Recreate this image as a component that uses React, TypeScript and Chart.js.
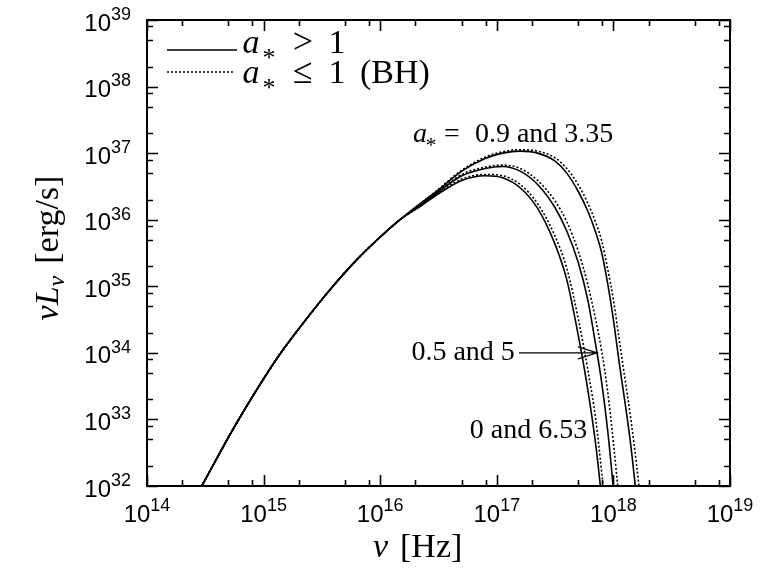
import React, { useEffect, useRef } from "react";
import { Chart, registerables } from "chart.js";

Chart.register(...registerables);

// log10 of frequency (Hz) – shared grid
const logNu = [
  14.3, 14.47, 14.6, 14.74, 14.9, 15.12, 15.35, 15.58, 15.8, 16.0, 16.17, 16.35,
  16.5, 16.7, 16.9, 17.05, 17.2, 17.35, 17.5, 17.6, 17.7, 17.78, 17.85, 17.9,
  17.95, 18.0, 18.05, 18.1, 18.15, 18.2, 18.25, 18.3,
];

// log10(nu L_nu) – common rising part (first 11 grid points)
const riseLogL = [31.46, 32.0, 32.42, 32.86, 33.33, 33.93, 34.47, 34.97, 35.4, 35.74, 36.0];

// tails from log nu = 16.35 onwards
const tailA335 = [36.25, 36.45, 36.73, 36.92, 37.0, 37.03, 37.0, 36.88, 36.7, 36.42, 36.13, 35.8, 35.5, 35.05, 34.5, 33.85, 33.25, 32.6, 31.8, 31.0, 30.1];
const tailA09 = [36.25, 36.46, 36.745, 36.94, 37.02, 37.05, 37.03, 36.93, 36.77, 36.52, 36.25, 35.95, 35.68, 35.27, 34.8, 34.2, 33.6, 33.0, 32.3, 31.5, 30.6];
const tailA5 = [36.23, 36.42, 36.66, 36.77, 36.8, 36.73, 36.53, 36.18, 35.83, 35.35, 34.8, 34.1, 33.55, 32.85, 31.95, 30.9, null, null, null, null, null];
const tailA05 = [36.23, 36.43, 36.68, 36.79, 36.82, 36.77, 36.59, 36.28, 35.97, 35.52, 35.03, 34.48, 34.02, 33.43, 32.65, 31.75, 30.7, null, null, null, null];
const tailA653 = [36.21, 36.39, 36.59, 36.66, 36.63, 36.48, 36.17, 35.63, 35.1, 34.25, 33.45, 32.6, 31.8, 30.9, null, null, null, null, null, null, null];
const tailA0 = [36.21, 36.4, 36.61, 36.68, 36.66, 36.53, 36.24, 35.75, 35.27, 34.5, 33.75, 32.98, 32.2, 31.35, 30.4, null, null, null, null, null, null];

const xExps = [14, 15, 16, 17, 18, 19];
const yExps = [32, 33, 34, 35, 36, 37, 38, 39];
const minorMults = [2, 5, 8];

const seriesList: { name: string; tail: (number | null)[]; dotted: boolean }[] = [
  { name: "a*=3.35", tail: tailA335, dotted: false },
  { name: "a*=5", tail: tailA5, dotted: false },
  { name: "a*=6.53", tail: tailA653, dotted: false },
  { name: "a*=0.9 (BH)", tail: tailA09, dotted: true },
  { name: "a*=0.5 (BH)", tail: tailA05, dotted: true },
  { name: "a*=0 (BH)", tail: tailA0, dotted: true },
];

const SERIF = '"Liberation Serif", "Times New Roman", serif';
const SANS = '"Liberation Sans", Arial, Helvetica, sans-serif';

function drawPow(ctx: CanvasRenderingContext2D, exp: number, x: number, baseY: number, align: "center" | "right") {
  ctx.font = `24px ${SANS}`;
  const wb = ctx.measureText("10").width;
  ctx.font = `18px ${SANS}`;
  const ws = ctx.measureText(String(exp)).width;
  const total = wb + ws;
  const left = align === "center" ? x - total / 2 : x - total;
  ctx.textAlign = "left";
  ctx.textBaseline = "alphabetic";
  ctx.font = `24px ${SANS}`;
  ctx.fillText("10", left, baseY);
  ctx.font = `18px ${SANS}`;
  ctx.fillText(String(exp), left + wb, baseY - 10.6);
}

function textAt(ctx: CanvasRenderingContext2D, s: string, x: number, y: number, font: string, align: CanvasTextAlign = "left") {
  ctx.font = font;
  ctx.textAlign = align;
  ctx.textBaseline = "alphabetic";
  ctx.fillText(s, x, y);
}

function starAt(ctx: CanvasRenderingContext2D, cx: number, cy: number, size: number) {
  ctx.font = `${size}px ${SERIF}`;
  ctx.textAlign = "center";
  ctx.textBaseline = "alphabetic";
  const m = ctx.measureText("*");
  const off = (m.actualBoundingBoxAscent - m.actualBoundingBoxDescent) / 2;
  ctx.fillText("*", cx, cy + off);
}

const framePlugin = {
  id: "framePlugin",
  afterDraw(chart: any) {
    const { ctx, chartArea: a, scales } = chart;
    const xs = scales.x;
    const ys = scales.y;
    ctx.save();
    ctx.fillStyle = "#000";
    ctx.strokeStyle = "#000";

    // frame
    ctx.lineWidth = 2;
    ctx.strokeRect(a.left, a.top, a.right - a.left, a.bottom - a.top);

    // ticks
    ctx.lineWidth = 1.6;
    ctx.beginPath();
    for (const e of xExps) {
      for (const m of [1, ...minorMults]) {
        const v = m * Math.pow(10, e);
        if (v > 1e19 * 1.0001) continue;
        const px = Math.round(xs.getPixelForValue(v)) + 0.5;
        const len = m === 1 ? 11 : 6;
        ctx.moveTo(px, a.bottom);
        ctx.lineTo(px, a.bottom - len);
        ctx.moveTo(px, a.top);
        ctx.lineTo(px, a.top + len);
      }
    }
    for (const e of yExps) {
      for (const m of [1, ...minorMults]) {
        const v = m * Math.pow(10, e);
        if (v > 1e39 * 1.0001) continue;
        const py = Math.round(ys.getPixelForValue(v)) + 0.5;
        const len = m === 1 ? 11 : 6;
        ctx.moveTo(a.left, py);
        ctx.lineTo(a.left + len, py);
        ctx.moveTo(a.right, py);
        ctx.lineTo(a.right - len, py);
      }
    }
    ctx.stroke();

    // tick labels
    for (const e of xExps) {
      const px = xs.getPixelForValue(Math.pow(10, e));
      drawPow(ctx, e, px, a.bottom + 35.7, "center");
    }
    for (const e of yExps) {
      const py = ys.getPixelForValue(Math.pow(10, e));
      drawPow(ctx, e, a.left - 16, py + 10.5, "right");
    }

    // x axis title: nu [Hz]
    const xb = a.bottom + 71;
    textAt(ctx, "\u03BD", a.left + 226, xb, `italic 34px ${SERIF}`);
    textAt(ctx, "[Hz]", a.left + 253, xb, `34px ${SERIF}`);

    // y axis title: nu L_nu [erg/s] (rotated)
    ctx.save();
    const yc = (a.top + a.bottom) / 2 - 5;
    ctx.translate(58, yc);
    ctx.rotate(-Math.PI / 2);
    ctx.font = `italic 34px ${SERIF}`;
    const w1 = ctx.measureText("\u03BDL").width;
    ctx.font = `italic 24px ${SERIF}`;
    const w2 = ctx.measureText("\u03BD").width;
    ctx.font = `34px ${SERIF}`;
    const w3 = ctx.measureText("[erg/s]").width;
    const gap = 12;
    const total = w1 + w2 + gap + w3;
    let u = -total / 2;
    textAt(ctx, "\u03BDL", u, 0, `italic 34px ${SERIF}`);
    u += w1;
    textAt(ctx, "\u03BD", u, 6, `italic 24px ${SERIF}`);
    u += w2 + gap;
    textAt(ctx, "[erg/s]", u, 0, `34px ${SERIF}`);
    ctx.restore();

    // legend
    const l0 = a.left;
    const t0 = a.top;
    ctx.lineWidth = 1.6;
    ctx.setLineDash([]);
    ctx.beginPath();
    ctx.moveTo(l0 + 20, t0 + 30);
    ctx.lineTo(l0 + 90, t0 + 30);
    ctx.stroke();
    ctx.setLineDash([2, 2]);
    ctx.beginPath();
    ctx.moveTo(l0 + 20, t0 + 52);
    ctx.lineTo(l0 + 86, t0 + 52);
    ctx.stroke();
    ctx.setLineDash([]);

    const b1 = t0 + 33;
    const b2 = t0 + 63;
    textAt(ctx, "a", l0 + 104, b1, `italic 34px ${SERIF}`, "center");
    starAt(ctx, l0 + 122, b1 + 1, 26);
    textAt(ctx, ">", l0 + 156, b1, `36px ${SERIF}`, "center");
    textAt(ctx, "1", l0 + 190, b1, `34px ${SERIF}`, "center");
    textAt(ctx, "a", l0 + 104, b2, `italic 34px ${SERIF}`, "center");
    starAt(ctx, l0 + 122, b2 + 1, 26);
    textAt(ctx, "\u2264", l0 + 156, b2, `36px ${SERIF}`, "center");
    textAt(ctx, "1", l0 + 190, b2, `34px ${SERIF}`, "center");
    textAt(ctx, "(BH)", l0 + 213, b2, `34px ${SERIF}`, "left");

    // annotations (data coordinates)
    const X = (lg: number) => xs.getPixelForValue(Math.pow(10, lg));
    const Y = (lg: number) => ys.getPixelForValue(Math.pow(10, lg));

    const ax = X(16.298);
    const ab = Y(37.17);
    textAt(ctx, "a", ax + 5, ab, `italic 28px ${SERIF}`, "center");
    starAt(ctx, ax + 16, ab, 22);
    textAt(ctx, "=", ax + 37, ab, `28px ${SERIF}`, "center");
    textAt(ctx, "0.9 and 3.35", ax + 60, ab, `28px ${SERIF}`, "left");

    textAt(ctx, "0.5 and 5", X(17.155), Y(33.9), `28px ${SERIF}`, "right");
    textAt(ctx, "0 and 6.53", X(17.775), Y(32.72), `28px ${SERIF}`, "right");

    // arrow
    const ay = Y(34);
    const x1 = X(17.19);
    const x2 = X(17.86);
    ctx.lineWidth = 1.2;
    ctx.beginPath();
    ctx.moveTo(x1, ay);
    ctx.lineTo(x2, ay);
    ctx.moveTo(x2 - 19, ay - 6);
    ctx.lineTo(x2, ay);
    ctx.lineTo(x2 - 19, ay + 6);
    ctx.stroke();

    ctx.restore();
  },
};

export default function App() {
  const canvasRef = useRef<HTMLCanvasElement | null>(null);

  useEffect(() => {
    document.body.style.margin = "0";
    const canvas = canvasRef.current;
    if (!canvas) return;

    const datasets = seriesList.map((s) => {
      const ys = [...riseLogL, ...s.tail];
      return {
        label: s.name,
        data: logNu.map((lx, i) => ({
          x: Math.pow(10, lx),
          y: ys[i] === null || ys[i] === undefined ? null : Math.pow(10, ys[i] as number),
        })),
        borderColor: "#000",
        backgroundColor: "#000",
        borderWidth: 1.6,
        borderDash: s.dotted ? [2, 2] : [],
        pointRadius: 0,
        fill: false,
        cubicInterpolationMode: "monotone" as const,
        spanGaps: false,
      };
    });

    const chart = new Chart(canvas, {
      type: "line",
      data: { datasets: datasets as any },
      options: {
        responsive: false,
        animation: false,
        layout: { padding: { left: 147, right: 33, top: 20, bottom: 86 } },
        plugins: { legend: { display: false }, tooltip: { enabled: false } },
        scales: {
          x: { type: "logarithmic", min: 1e14, max: 1e19, display: false },
          y: { type: "logarithmic", min: 1e32, max: 1e39, display: false },
        },
      },
      plugins: [framePlugin],
    });
    return () => chart.destroy();
  }, []);

  return (
    <div style={{ width: 763, height: 572, background: "#fff" }}>
      <canvas ref={canvasRef} width={763} height={572} style={{ display: "block" }} />
    </div>
  );
}
